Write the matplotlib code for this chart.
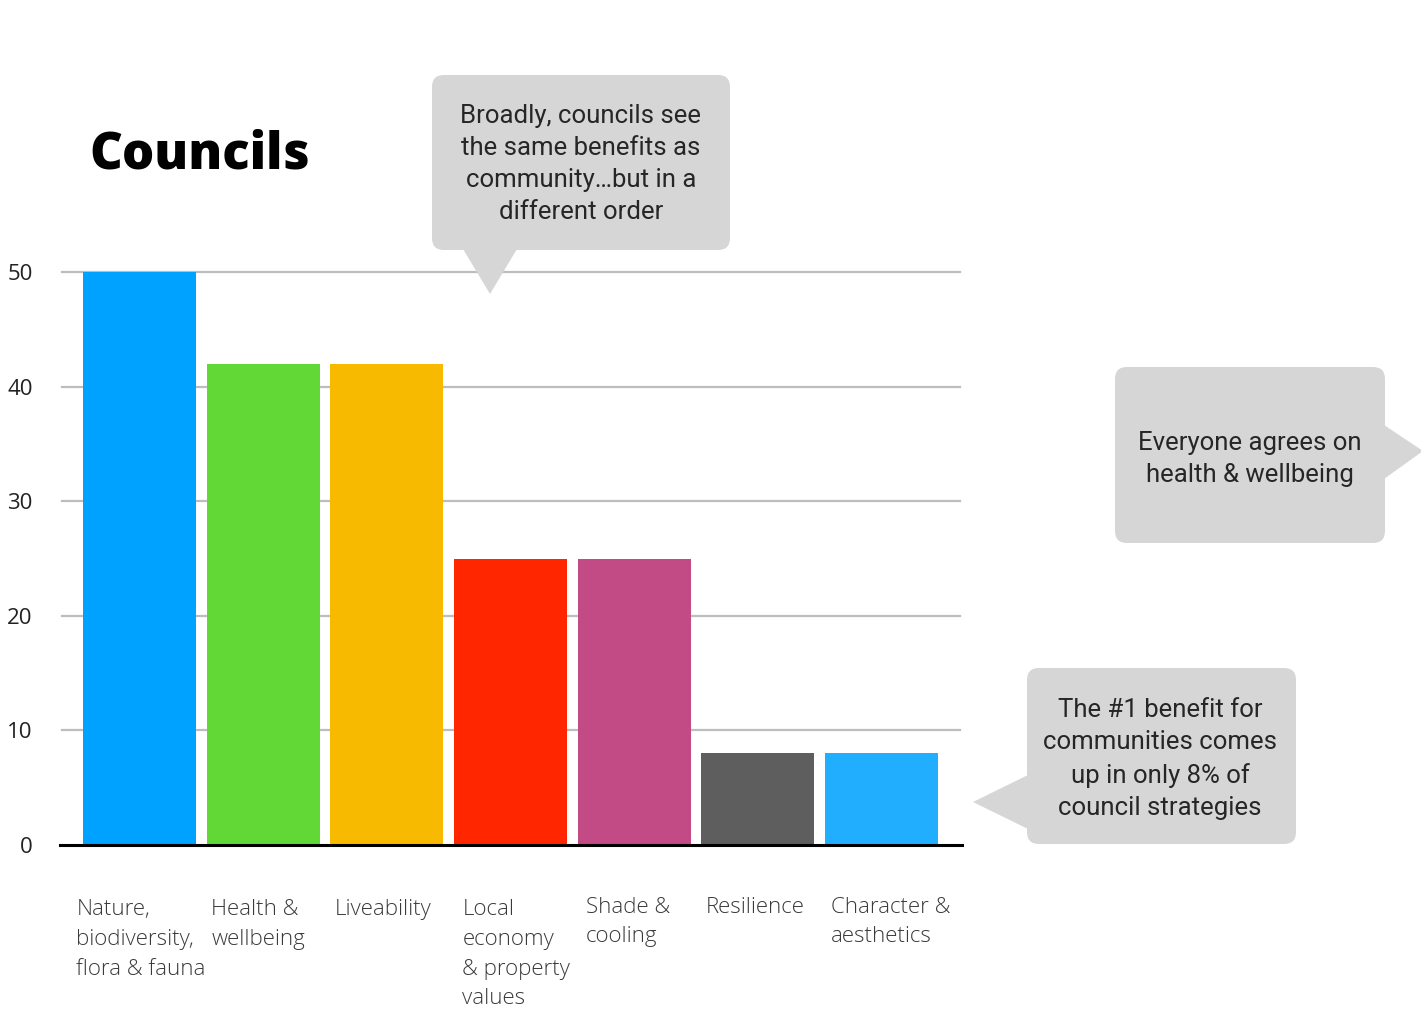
import matplotlib
matplotlib.use('Agg')

import matplotlib.pyplot as plt
from matplotlib.patches import FancyBboxPatch, Polygon
import numpy as np

# chart data
categories = ["Nature,\nbiodiversity,\nflora & fauna", "Health &\nwellbeing", "Liveability",
              "Local\neconomy\n& property\nvalues", "Shade &\ncooling", "Resilience", "Character &\naesthetics"]
values = [50, 42, 42, 25, 25, 8, 8]
colors = ["#00A2FF", "#61D836", "#F8BA00", "#FF2600", "#C24B86", "#5E5E5E", "#22AEFF"]
yticks = [0, 10, 20, 30, 40, 50]

# where each label starts, relative to bar centre (data units)
label_shift = [-0.51, -0.42, -0.42, -0.39, -0.39, -0.42, -0.41]
label_drop = [0, 0, 0, 0, 0.25, 0.25, 0.25]

W, H = 1421, 1015
fig = plt.figure(figsize=(W / 100, H / 100), dpi=100)

# main axes placed in pixel terms: x 62..960, y 272..845
ax = fig.add_axes([62 / W, 1 - 845 / H, (960 - 62) / W, (845 - 272) / H])
x = np.arange(len(values))
ax.bar(x, values, width=0.915, color=colors, zorder=3)
ax.set_xlim(-0.627, 6.635)
ax.set_ylim(0, 50)
for s in ax.spines.values():
	s.set_visible(False)
for t in yticks[1:]:
	ax.axhline(t, color="#BDBDBD", lw=1.6, zorder=1, clip_on=False)
ax.axhline(0, xmin=-0.002, xmax=1.002, color="black", lw=2.2, zorder=4, clip_on=False)
ax.set_xticks([])
ax.set_yticks(yticks)
ax.tick_params(axis='y', length=0, pad=21)
for lab in ax.get_yticklabels():
	lab.set_fontfamily("Open Sans")
	lab.set_fontsize(16)
	lab.set_color("#222222")
	lab.set_y(lab.get_position()[1])

# category labels, left aligned near the bar's left edge
for i, name in enumerate(categories):
	ax.text(i + label_shift[i], -4.75 + label_drop[i], name, ha="left", va="top", fontsize=16,
	        fontfamily="Open Sans", fontweight="light", color="#3a3a3a", linespacing=1.54)

# overlay for title and callouts, in pixel coordinates
ov = fig.add_axes([0, 0, 1, 1])
ov.set_xlim(0, W)
ov.set_ylim(H, 0)
ov.axis("off")
ov.patch.set_alpha(0)

ov.text(89, 168, "Councils", fontsize=36.5, fontweight="heavy", fontfamily="Open Sans",
        ha="left", va="baseline", color="black")

box_col = "#D6D6D6"
txt_kw = dict(ha="center", va="center", fontsize=18.5, fontfamily=["Roboto", "DejaVu Sans"],
              fontweight="normal", color="#262626", linespacing=1.42)

def callout(x0, y0, x1, y1, tri, text, tx, ty):
	ov.add_patch(FancyBboxPatch((x0 + 12, y0 + 12), x1 - x0 - 24, y1 - y0 - 24,
	                            boxstyle="round,pad=12", fc=box_col, ec="none", clip_on=False))
	ov.add_patch(Polygon(tri, closed=True, fc=box_col, ec="none", clip_on=False))
	ov.text(tx, ty, text, **txt_kw)

callout(432, 75, 730, 250, [(463, 249), (517, 249), (490, 294)],
        "Broadly, councils see\nthe same benefits as\ncommunity\u2026but in a\ndifferent order", 581, 164)
callout(1115, 367, 1385, 543, [(1384, 425), (1384, 479), (1423, 451)],
        "Everyone agrees on\nhealth & wellbeing", 1250, 459)
callout(1027, 668, 1296, 844, [(1028, 775), (1028, 829), (973, 802)],
        "The #1 benefit for\ncommunities comes\nup in only 8% of\ncouncil strategies", 1160, 759)

fig.savefig("out.png", dpi=100)
